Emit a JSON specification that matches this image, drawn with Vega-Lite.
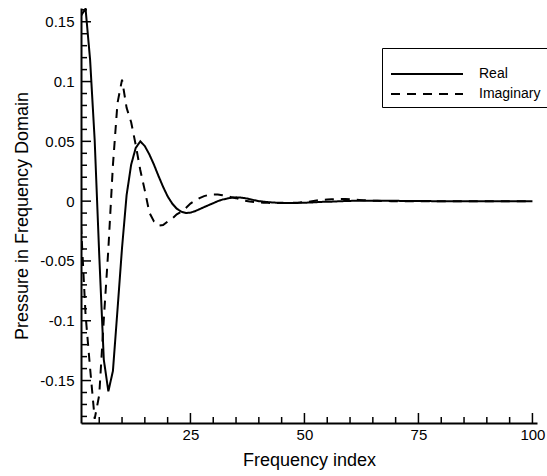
{
  "$schema": "https://vega.github.io/schema/vega-lite/v6.json",
  "width": 456,
  "height": 415,
  "autosize": "none",
  "padding": {"left": 81, "top": 8, "right": 10, "bottom": 53},
  "config": {"view": {"stroke": null}, "font": "Liberation Sans"},
  "layer": [
    {
      "data": {"values": [
        {"i":1,"v":0.155,"s":"Real"},{"i":2,"v":0.161,"s":"Real"},{"i":3,"v":0.118,"s":"Real"},{"i":4,"v":0.051,"s":"Real"},{"i":5,"v":-0.045,"s":"Real"},
        {"i":6,"v":-0.1325,"s":"Real"},{"i":7,"v":-0.159,"s":"Real"},{"i":8,"v":-0.142,"s":"Real"},{"i":9,"v":-0.091,"s":"Real"},{"i":10,"v":-0.039,"s":"Real"},
        {"i":11,"v":0.005,"s":"Real"},{"i":12,"v":0.0305,"s":"Real"},{"i":13,"v":0.0445,"s":"Real"},{"i":14,"v":0.05,"s":"Real"},{"i":15,"v":0.046,"s":"Real"},
        {"i":16,"v":0.039,"s":"Real"},{"i":17,"v":0.0305,"s":"Real"},{"i":18,"v":0.021,"s":"Real"},{"i":19,"v":0.012,"s":"Real"},{"i":20,"v":0.004,"s":"Real"},
        {"i":21,"v":-0.002,"s":"Real"},{"i":22,"v":-0.0063,"s":"Real"},{"i":23,"v":-0.0088,"s":"Real"},{"i":24,"v":-0.0099,"s":"Real"},{"i":25,"v":-0.0096,"s":"Real"},
        {"i":26,"v":-0.0084,"s":"Real"},{"i":27,"v":-0.0067,"s":"Real"},{"i":28,"v":-0.005,"s":"Real"},{"i":29,"v":-0.0033,"s":"Real"},{"i":30,"v":-0.0017,"s":"Real"},
        {"i":31,"v":0.0,"s":"Real"},{"i":32,"v":0.0013,"s":"Real"},{"i":33,"v":0.0021,"s":"Real"},{"i":34,"v":0.0029,"s":"Real"},{"i":35,"v":0.0032,"s":"Real"},
        {"i":36,"v":0.003,"s":"Real"},{"i":37,"v":0.0025,"s":"Real"},{"i":38,"v":0.0017,"s":"Real"},{"i":39,"v":0.0008,"s":"Real"},{"i":40,"v":0.0,"s":"Real"},
        {"i":41,"v":-0.0004,"s":"Real"},{"i":42,"v":-0.0008,"s":"Real"},{"i":43,"v":-0.0011,"s":"Real"},{"i":44,"v":-0.0013,"s":"Real"},{"i":45,"v":-0.0014,"s":"Real"},
        {"i":46,"v":-0.0015,"s":"Real"},{"i":47,"v":-0.0015,"s":"Real"},{"i":48,"v":-0.0015,"s":"Real"},{"i":49,"v":-0.0014,"s":"Real"},{"i":50,"v":-0.0013,"s":"Real"},
        {"i":51,"v":-0.0012,"s":"Real"},{"i":52,"v":-0.001,"s":"Real"},{"i":53,"v":-0.0008,"s":"Real"},{"i":54,"v":-0.0006,"s":"Real"},{"i":55,"v":-0.0005,"s":"Real"},
        {"i":56,"v":-0.0004,"s":"Real"},{"i":57,"v":-0.0002,"s":"Real"},{"i":58,"v":-0.0001,"s":"Real"},{"i":59,"v":0.0001,"s":"Real"},{"i":60,"v":0.0002,"s":"Real"},
        {"i":61,"v":0.0003,"s":"Real"},{"i":62,"v":0.0003,"s":"Real"},{"i":63,"v":0.0004,"s":"Real"},{"i":64,"v":0.0004,"s":"Real"},{"i":65,"v":0.0004,"s":"Real"},
        {"i":66,"v":0.0004,"s":"Real"},{"i":67,"v":0.0004,"s":"Real"},{"i":68,"v":0.0003,"s":"Real"},{"i":69,"v":0.0003,"s":"Real"},{"i":70,"v":0.0003,"s":"Real"},
        {"i":71,"v":0.0002,"s":"Real"},{"i":72,"v":0.0002,"s":"Real"},{"i":73,"v":0.0002,"s":"Real"},{"i":74,"v":0.0001,"s":"Real"},{"i":75,"v":0.0001,"s":"Real"},
        {"i":76,"v":0.0001,"s":"Real"},{"i":77,"v":0.0001,"s":"Real"},{"i":78,"v":0.0,"s":"Real"},{"i":79,"v":0.0,"s":"Real"},{"i":80,"v":0.0,"s":"Real"},
        {"i":81,"v":0.0,"s":"Real"},{"i":82,"v":0.0,"s":"Real"},{"i":83,"v":0.0,"s":"Real"},{"i":84,"v":0.0,"s":"Real"},{"i":85,"v":0.0,"s":"Real"},
        {"i":86,"v":0.0,"s":"Real"},{"i":87,"v":0.0,"s":"Real"},{"i":88,"v":0.0,"s":"Real"},{"i":89,"v":0.0,"s":"Real"},{"i":90,"v":0.0,"s":"Real"},
        {"i":91,"v":0.0,"s":"Real"},{"i":92,"v":0.0,"s":"Real"},{"i":93,"v":0.0,"s":"Real"},{"i":94,"v":0.0,"s":"Real"},{"i":95,"v":0.0,"s":"Real"},
        {"i":96,"v":0.0,"s":"Real"},{"i":97,"v":0.0,"s":"Real"},{"i":98,"v":0.0,"s":"Real"},{"i":99,"v":0.0,"s":"Real"},{"i":100,"v":0.0,"s":"Real"},
        {"i":1,"v":-0.02,"s":"Imaginary"},{"i":2,"v":-0.095,"s":"Imaginary"},{"i":3,"v":-0.14,"s":"Imaginary"},{"i":4,"v":-0.182,"s":"Imaginary"},{"i":5,"v":-0.162,"s":"Imaginary"},
        {"i":6,"v":-0.099,"s":"Imaginary"},{"i":7,"v":-0.04,"s":"Imaginary"},{"i":8,"v":0.03,"s":"Imaginary"},{"i":9,"v":0.082,"s":"Imaginary"},{"i":10,"v":0.1016,"s":"Imaginary"},
        {"i":11,"v":0.078,"s":"Imaginary"},{"i":12,"v":0.066,"s":"Imaginary"},{"i":13,"v":0.047,"s":"Imaginary"},{"i":14,"v":0.026,"s":"Imaginary"},{"i":15,"v":0.0088,"s":"Imaginary"},
        {"i":16,"v":-0.0096,"s":"Imaginary"},{"i":17,"v":-0.017,"s":"Imaginary"},{"i":18,"v":-0.0205,"s":"Imaginary"},{"i":19,"v":-0.02,"s":"Imaginary"},{"i":20,"v":-0.017,"s":"Imaginary"},
        {"i":21,"v":-0.0146,"s":"Imaginary"},{"i":22,"v":-0.011,"s":"Imaginary"},{"i":23,"v":-0.0088,"s":"Imaginary"},{"i":24,"v":-0.0057,"s":"Imaginary"},{"i":25,"v":-0.002,"s":"Imaginary"},
        {"i":26,"v":0.0004,"s":"Imaginary"},{"i":27,"v":0.0025,"s":"Imaginary"},{"i":28,"v":0.0042,"s":"Imaginary"},{"i":29,"v":0.0052,"s":"Imaginary"},{"i":30,"v":0.0055,"s":"Imaginary"},
        {"i":31,"v":0.0055,"s":"Imaginary"},{"i":32,"v":0.005,"s":"Imaginary"},{"i":33,"v":0.0042,"s":"Imaginary"},{"i":34,"v":0.0033,"s":"Imaginary"},{"i":35,"v":0.0025,"s":"Imaginary"},
        {"i":36,"v":0.0013,"s":"Imaginary"},{"i":37,"v":0.0004,"s":"Imaginary"},{"i":38,"v":-0.0003,"s":"Imaginary"},{"i":39,"v":-0.0008,"s":"Imaginary"},{"i":40,"v":-0.0011,"s":"Imaginary"},
        {"i":41,"v":-0.0013,"s":"Imaginary"},{"i":42,"v":-0.0014,"s":"Imaginary"},{"i":43,"v":-0.0015,"s":"Imaginary"},{"i":44,"v":-0.0015,"s":"Imaginary"},{"i":45,"v":-0.0015,"s":"Imaginary"},
        {"i":46,"v":-0.0015,"s":"Imaginary"},{"i":47,"v":-0.0015,"s":"Imaginary"},{"i":48,"v":-0.0013,"s":"Imaginary"},{"i":49,"v":-0.0011,"s":"Imaginary"},{"i":50,"v":-0.0008,"s":"Imaginary"},
        {"i":51,"v":-0.0004,"s":"Imaginary"},{"i":52,"v":0.0002,"s":"Imaginary"},{"i":53,"v":0.0007,"s":"Imaginary"},{"i":54,"v":0.0011,"s":"Imaginary"},{"i":55,"v":0.0014,"s":"Imaginary"},
        {"i":56,"v":0.0016,"s":"Imaginary"},{"i":57,"v":0.0018,"s":"Imaginary"},{"i":58,"v":0.0018,"s":"Imaginary"},{"i":59,"v":0.0017,"s":"Imaginary"},{"i":60,"v":0.0015,"s":"Imaginary"},
        {"i":61,"v":0.0012,"s":"Imaginary"},{"i":62,"v":0.001,"s":"Imaginary"},{"i":63,"v":0.0008,"s":"Imaginary"},{"i":64,"v":0.0006,"s":"Imaginary"},{"i":65,"v":0.0004,"s":"Imaginary"},
        {"i":66,"v":0.0003,"s":"Imaginary"},{"i":67,"v":0.0002,"s":"Imaginary"},{"i":68,"v":0.0001,"s":"Imaginary"},{"i":69,"v":0.0,"s":"Imaginary"},{"i":70,"v":0.0,"s":"Imaginary"},
        {"i":71,"v":0.0,"s":"Imaginary"},{"i":72,"v":-0.0001,"s":"Imaginary"},{"i":73,"v":-0.0001,"s":"Imaginary"},{"i":74,"v":-0.0001,"s":"Imaginary"},{"i":75,"v":-0.0001,"s":"Imaginary"},
        {"i":76,"v":-0.0001,"s":"Imaginary"},{"i":77,"v":0.0,"s":"Imaginary"},{"i":78,"v":0.0,"s":"Imaginary"},{"i":79,"v":0.0,"s":"Imaginary"},{"i":80,"v":0.0,"s":"Imaginary"},
        {"i":81,"v":0.0,"s":"Imaginary"},{"i":82,"v":0.0,"s":"Imaginary"},{"i":83,"v":0.0,"s":"Imaginary"},{"i":84,"v":0.0,"s":"Imaginary"},{"i":85,"v":0.0,"s":"Imaginary"},
        {"i":86,"v":0.0,"s":"Imaginary"},{"i":87,"v":0.0,"s":"Imaginary"},{"i":88,"v":0.0,"s":"Imaginary"},{"i":89,"v":0.0,"s":"Imaginary"},{"i":90,"v":0.0,"s":"Imaginary"},
        {"i":91,"v":0.0,"s":"Imaginary"},{"i":92,"v":0.0,"s":"Imaginary"},{"i":93,"v":0.0,"s":"Imaginary"},{"i":94,"v":0.0,"s":"Imaginary"},{"i":95,"v":0.0,"s":"Imaginary"},
        {"i":96,"v":0.0,"s":"Imaginary"},{"i":97,"v":0.0,"s":"Imaginary"},{"i":98,"v":0.0,"s":"Imaginary"},{"i":99,"v":0.0,"s":"Imaginary"},{"i":100,"v":0.0,"s":"Imaginary"}
      ]},
      "mark": {"type": "line", "stroke": "black", "strokeWidth": 2, "clip": true},
      "encoding": {
        "x": {
          "field": "i", "type": "quantitative",
          "scale": {"domain": [1, 101], "nice": false, "zero": false},
          "axis": {
            "title": "Frequency index",
            "values": [25, 50, 75, 100],
            "ticks": false,
            "domainColor": "black", "domainWidth": 2,
            "labelFontSize": 15, "labelColor": "black", "labelPadding": 4,
            "labelOverlap": false, "labelFlush": false,
            "titleFontSize": 18, "titleFontWeight": "normal", "titleColor": "black", "titlePadding": 9,
            "grid": false
          }
        },
        "y": {
          "field": "v", "type": "quantitative",
          "scale": {"domain": [-0.1855, 0.1615], "nice": false, "zero": false},
          "axis": {
            "title": "Pressure in Frequency Domain",
            "values": [-0.15, -0.1, -0.05, 0, 0.05, 0.1, 0.15],
            "labelExpr": "'' + datum.value",
            "ticks": false,
            "domainColor": "black", "domainWidth": 2,
            "labelFontSize": 15, "labelColor": "black", "labelPadding": 7,
            "labelOverlap": false, "labelFlush": false,
            "titleFontSize": 18, "titleFontWeight": "normal", "titleColor": "black", "titlePadding": 8,
            "grid": false
          }
        },
        "strokeDash": {
          "field": "s", "type": "nominal",
          "scale": {"domain": ["Real", "Imaginary"], "range": [[1, 0], [9, 7]]},
          "legend": {
            "orient": "none", "legendX": 301, "legendY": 40,
            "title": " ", "titleFontSize": 8, "titlePadding": 3,
            "strokeColor": "black", "fillColor": "white", "padding": 6,
            "labelFontSize": 14, "labelColor": "black", "labelOffset": 43,
            "symbolType": "M-4.5,0L4.5,0", "symbolSize": 256, "symbolStrokeWidth": 2,
            "symbolOffset": 30,
            "symbolStrokeColor": "black", "rowPadding": 4
          }
        }
      }
    },
    {
      "data": {"values": [
        {"t":5,"k":"minor"},{"t":10,"k":"minor"},{"t":15,"k":"minor"},{"t":20,"k":"minor"},{"t":25,"k":"major"},
        {"t":30,"k":"minor"},{"t":35,"k":"minor"},{"t":40,"k":"minor"},{"t":45,"k":"minor"},{"t":50,"k":"major"},
        {"t":55,"k":"minor"},{"t":60,"k":"minor"},{"t":65,"k":"minor"},{"t":70,"k":"minor"},{"t":75,"k":"major"},
        {"t":80,"k":"minor"},{"t":85,"k":"minor"},{"t":90,"k":"minor"},{"t":95,"k":"minor"},{"t":100,"k":"major"}
      ]},
      "mark": {"type": "tick", "orient": "vertical", "color": "black", "thickness": 1.5, "clip": true, "opacity": 1},
      "encoding": {
        "x": {"field": "t", "type": "quantitative", "scale": {"domain": [1, 101], "nice": false, "zero": false}},
        "y": {"datum": -0.1855, "type": "quantitative", "scale": {"domain": [-0.1855, 0.1615], "nice": false, "zero": false}},
        "size": {"condition": {"test": "datum.k == 'major'", "value": 20}, "value": 12}
      }
    },
    {
      "data": {"values": [
        {"t":-0.18,"k":"minor"},{"t":-0.17,"k":"minor"},{"t":-0.16,"k":"minor"},{"t":-0.15,"k":"major"},{"t":-0.14,"k":"minor"},
        {"t":-0.13,"k":"minor"},{"t":-0.12,"k":"minor"},{"t":-0.11,"k":"minor"},{"t":-0.1,"k":"major"},{"t":-0.09,"k":"minor"},
        {"t":-0.08,"k":"minor"},{"t":-0.07,"k":"minor"},{"t":-0.06,"k":"minor"},{"t":-0.05,"k":"major"},{"t":-0.04,"k":"minor"},
        {"t":-0.03,"k":"minor"},{"t":-0.02,"k":"minor"},{"t":-0.01,"k":"minor"},{"t":0,"k":"major"},{"t":0.01,"k":"minor"},
        {"t":0.02,"k":"minor"},{"t":0.03,"k":"minor"},{"t":0.04,"k":"minor"},{"t":0.05,"k":"major"},{"t":0.06,"k":"minor"},
        {"t":0.07,"k":"minor"},{"t":0.08,"k":"minor"},{"t":0.09,"k":"minor"},{"t":0.1,"k":"major"},{"t":0.11,"k":"minor"},
        {"t":0.12,"k":"minor"},{"t":0.13,"k":"minor"},{"t":0.14,"k":"minor"},{"t":0.15,"k":"major"},{"t":0.16,"k":"minor"}
      ]},
      "mark": {"type": "tick", "orient": "horizontal", "color": "black", "thickness": 1.5, "clip": true, "opacity": 1},
      "encoding": {
        "y": {"field": "t", "type": "quantitative", "scale": {"domain": [-0.1855, 0.1615], "nice": false, "zero": false}},
        "x": {"datum": 1, "type": "quantitative", "scale": {"domain": [1, 101], "nice": false, "zero": false}},
        "size": {"condition": {"test": "datum.k == 'major'", "value": 20}, "value": 12}
      }
    }
  ]
}
